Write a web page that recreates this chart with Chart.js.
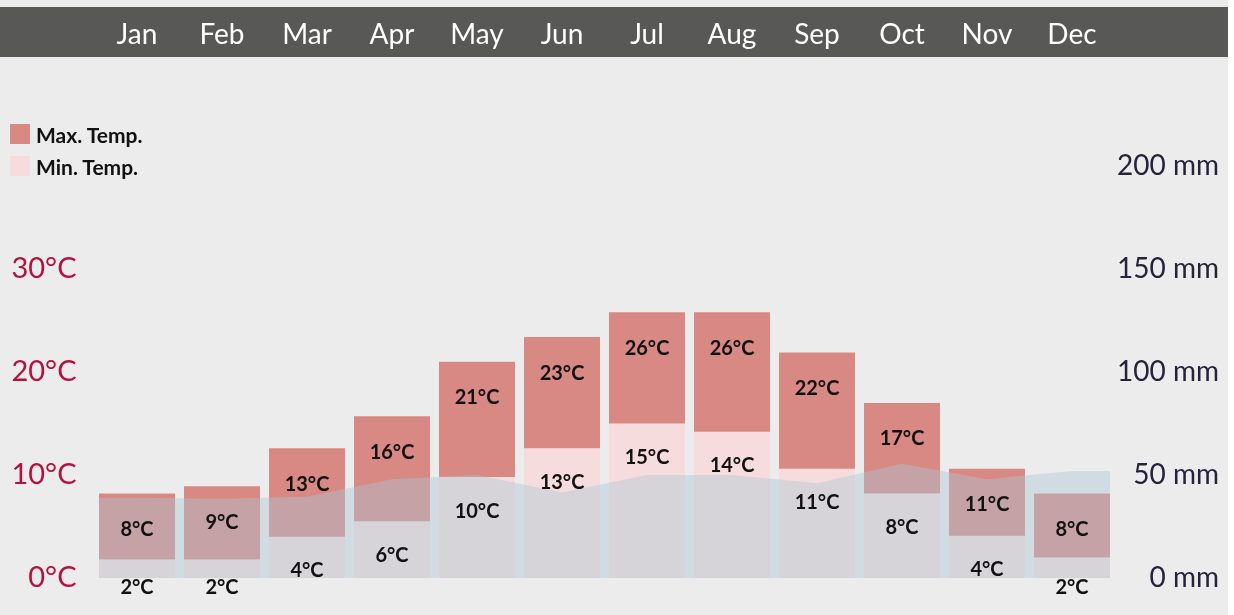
<!DOCTYPE html>
<html>
<head>
<meta charset="utf-8">
<script src="https://cdn.jsdelivr.net/npm/chart.js@4"></script>
<style>
  html, body { margin: 0; padding: 0; background: #ffffff; }
  #wrap { position: relative; width: 1228px; height: 615px; background: #ececec; overflow: hidden; }
  #c { position: absolute; left: 0; top: 0; }
  #legend { position: absolute; left: 10px; top: 124px; font-family: Lato, "DejaVu Sans", sans-serif; font-weight: 700; font-size: 21px; color: #111; }
  .li { display: flex; align-items: center; height: 20px; margin-bottom: 12px; }
  .sw { width: 20px; height: 20px; margin-right: 6px; flex: none; }
</style>
</head>
<body>
<div id="wrap">
  <canvas id="c" width="1228" height="615"></canvas>
  <div id="legend"></div>
</div>
<script>
// ---- data ----
const months = ['Jan','Feb','Mar','Apr','May','Jun','Jul','Aug','Sep','Oct','Nov','Dec'];
const maxTemp = [8.2, 8.9, 12.6, 15.7, 21.0, 23.4, 25.8, 25.8, 21.9, 17.0, 10.6, 8.2];
const minTemp = [1.8, 1.8, 4.0, 5.5, 9.8, 12.6, 15.0, 14.2, 10.6, 8.2, 4.1, 2.0];
const precip  = [39, 38.5, 39.5, 48, 50, 41.5, 50, 50, 46, 55.5, 48, 52];
const tempTicks = [0, 10, 20, 30];
const precipTicks = [0, 50, 100, 150, 200];
const seriesNames = ['Max. Temp.', 'Min. Temp.'];
const colMax = '#d98984';
const colMin = '#f6dcdc';

const barFrac = 76 / 85;
const half = barFrac / 2;
// precipitation area points: category centres, extended flat to the outer bar edges
const precipPts = [{x: -half, y: precip[0]}]
  .concat(precip.map((v, i) => ({x: i, y: v})))
  .concat([{x: months.length - 1 + half, y: precip[precip.length - 1]}]);

// legend (HTML)
const lg = document.getElementById('legend');
[[seriesNames[0], colMax], [seriesNames[1], colMin]].forEach(([n, c]) => {
  const d = document.createElement('div'); d.className = 'li';
  d.innerHTML = '<span class="sw" style="background:' + c + '"></span><span>' + n + '</span>';
  lg.appendChild(d);
});

const FONT = 'Lato, "DejaVu Sans", sans-serif';

const headerBand = {
  id: 'headerBand',
  beforeDraw(chart) {
    const s = chart.scales.x;
    const ctx = chart.ctx;
    ctx.save();
    ctx.fillStyle = '#585856';
    ctx.fillRect(0, s.top, chart.width, s.bottom - s.top);
    ctx.restore();
  }
};

const valueLabels = {
  id: 'valueLabels',
  afterDatasetsDraw(chart) {
    const ctx = chart.ctx;
    ctx.save();
    ctx.font = 'bold 20px ' + FONT;
    ctx.fillStyle = '#111';
    ctx.textAlign = 'center';
    ctx.textBaseline = 'middle';
    const mMax = chart.getDatasetMeta(1);
    const mMin = chart.getDatasetMeta(2);
    mMax.data.forEach((el, i) => {
      const top = Math.min(el.y, el.base);
      ctx.fillText(Math.round(maxTemp[i]) + '°C', el.x, top + 36);
    });
    mMin.data.forEach((el, i) => {
      const top = Math.min(el.y, el.base);
      ctx.fillText(Math.round(minTemp[i]) + '°C', el.x, Math.min(top + 34, 588));
    });
    ctx.restore();
  }
};

new Chart(document.getElementById('c'), {
  data: {
    labels: months,
    datasets: [
      {
        type: 'line', label: 'Precipitation', data: precipPts, xAxisID: 'xl', yAxisID: 'y2',
        backgroundColor: 'rgba(170,198,211,0.42)', borderWidth: 0, pointRadius: 0,
        fill: 'origin', tension: 0, order: 0
      },
      {
        type: 'bar', label: seriesNames[0], data: maxTemp.map((v, i) => [minTemp[i], v]),
        backgroundColor: colMax, xAxisID: 'x', yAxisID: 'y', grouped: false,
        barPercentage: barFrac, categoryPercentage: 1, order: 1
      },
      {
        type: 'bar', label: seriesNames[1], data: minTemp, backgroundColor: colMin,
        xAxisID: 'x', yAxisID: 'y', grouped: false,
        barPercentage: barFrac, categoryPercentage: 1, order: 2
      }
    ]
  },
  options: {
    responsive: false,
    animation: false,
    events: [],
    layout: { padding: { top: 7, bottom: 37, left: 0, right: 9 } },
    plugins: { legend: { display: false }, tooltip: { enabled: false } },
    scales: {
      x: {
        type: 'category', position: 'top', offset: true,
        grid: { display: false, drawTicks: false }, border: { display: false },
        ticks: { color: '#ffffff', font: { family: FONT, size: 28 }, padding: 5, maxRotation: 0, autoSkip: false },
        afterFit(s) { s.height = 50; }
      },
      xl: { type: 'linear', display: false, min: -0.5, max: months.length - 0.5 },
      y: {
        type: 'linear', position: 'left', min: 0, max: 50.6,
        grid: { display: false, drawTicks: false }, border: { display: false },
        afterBuildTicks(s) { s.ticks = tempTicks.map(v => ({value: v})); },
        ticks: { color: '#b3123d', font: { family: FONT, size: 29 }, padding: 18,
                 callback: v => v + '°C' },
        afterFit(s) { s.width = 94.5; }
      },
      y2: {
        type: 'linear', position: 'right', min: 0, max: 253,
        grid: { display: false, drawTicks: false }, border: { display: false },
        afterBuildTicks(s) { s.ticks = precipTicks.map(v => ({value: v})); },
        ticks: { color: '#25233a', font: { family: FONT, size: 28 }, crossAlign: 'far',
                 callback: v => v + ' mm' },
        afterFit(s) { s.width = 104.5; }
      }
    }
  },
  plugins: [headerBand, valueLabels]
});
</script>
</body>
</html>
